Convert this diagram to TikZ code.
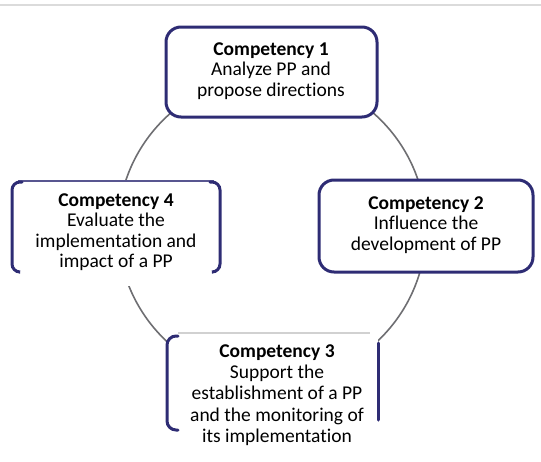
\documentclass[tikz,border=0pt]{standalone}
\usepackage{fontspec}
\setmainfont{Carlito}[Ligatures=NoCommon]
\definecolor{navy}{HTML}{2E2C74}
\definecolor{ring}{HTML}{6E6E72}

\begin{document}
\begin{tikzpicture}[x=1pt,y=-1pt,
  txt/.style={align=center,inner sep=0pt,
    font=\fontsize{19.5}{20.5}\selectfont},
  frame/.style={navy,line width=3pt,line cap=round}]
  \useasboundingbox (0,0) rectangle (541,461);
  \draw[color=black!14,line width=1.5pt] (0,5)--(541,5);
  \draw[color=ring,line width=1.6pt] (272,229) circle (154);
  % closed boxes
  \draw[frame,fill=white,rounded corners=15pt] (166,27) rectangle (377,117);
  \draw[frame,fill=white,rounded corners=15pt] (319,180) rectangle (533,272);
  % box with top line and side brackets
  \fill[white] (12,180) rectangle (220,286);
  \draw[navy!80,line width=1.6pt] (18,181)--(214,181);
  \draw[frame,rounded corners=8pt] (22,182)--(12,182)--(12,272)--(19,272);
  \draw[frame,rounded corners=8pt] (210,182)--(220,182)--(220,272)--(213,272);
  % box with side brackets only
  \fill[white] (167,334) rectangle (378,440);
  \draw[color=black!18,line width=1.2pt] (178,333)--(370,333);
  \draw[frame,rounded corners=9pt] (178,336)--(167,336)--(167,430)--(178,430);
  \draw[frame] (378,343)--(378,420);
  % texts
  \node[txt] (c1) at (271,71) {\textbf{Competency 1}\\Analyze PP and\\propose directions};
  \node[txt] (c2) at (426,225) {\textbf{Competency 2}\\Influence the\\development of PP};
  \node[txt] (c4) at (116,232) {\textbf{Competency 4}\\Evaluate the\\implementation and\\impact of a PP};
  \node[txt,font=\fontsize{19.5}{21.2}\selectfont] (c3) at (277,395)
    {\textbf{Competency 3}\\Support the\\establishment of a PP\\and the monitoring of\\its implementation};
\end{tikzpicture}
\end{document}
